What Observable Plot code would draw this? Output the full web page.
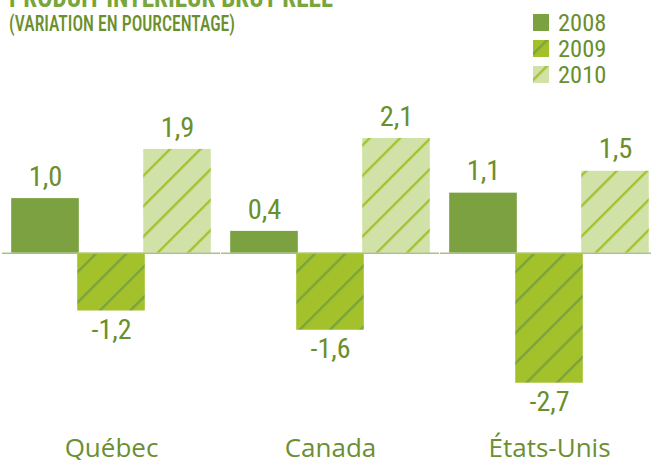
<!DOCTYPE html>
<html>
<head>
<meta charset="utf-8">
<script src="https://cdn.jsdelivr.net/npm/d3@7"></script>
<script src="https://cdn.jsdelivr.net/npm/@observablehq/plot@0.6"></script>
<style>
  html, body { margin: 0; padding: 0; background: #fff; }
  #wrap { position: relative; width: 651px; height: 460px; overflow: hidden; }
  .narrow { font-family: Roboto, sans-serif; font-stretch: 75%; }
  [font-family*="Roboto"] { font-stretch: 75%; }
  #title { position: absolute; left: 9px; top: -16px; font-size: 28px; line-height: 1; font-weight: bold; color: #78a63a; white-space: nowrap; transform-origin: 0 0; }
  #subtitle { position: absolute; left: 9px; top: 12.5px; font-size: 22px; line-height: 1; font-weight: 500; color: #6a8f2c; white-space: nowrap; transform-origin: 0 0; }
  .leg { position: absolute; left: 533px; display: flex; align-items: center; height: 17px; }
  .leg span { font-size: 24.5px; line-height: 17px; color: #6a8f2c; margin-left: 9px; }
  #chart { position: absolute; left: 0; top: 0; }
</style>
</head>
<body>
<div id="wrap">
  <div id="chart"></div>
  <div id="title" class="narrow">PRODUIT INTÉRIEUR BRUT RÉEL</div>
  <div id="subtitle" class="narrow">(VARIATION EN POURCENTAGE)</div>
  <div id="legend"></div>
</div>
<script>
// ---- data ----
const countries = ["Québec", "Canada", "États-Unis"];
const years = ["2008", "2009", "2010"];
const values2008 = [1.0, 0.4, 1.1];
const values2009 = [-1.2, -1.6, -2.7];
const values2010 = [1.9, 2.1, 1.5];

const seriesValues = [values2008, values2009, values2010];
const fills = ["#7ba140", "url(#h2009)", "url(#h2010)"];

const rows = [];
countries.forEach((c, i) => {
  years.forEach((y, j) => {
    rows.push({country: c, year: y, value: seriesValues[j][i]});
  });
});
const fmt = v => v.toFixed(1).replace(".", ",");
const labelColor = "#6a8f2c";
const narrow = "Roboto, sans-serif";
// the original draws negative bars on a slightly compressed scale
const negFactor = 0.881;

const chart = Plot.plot({
  width: 651,
  height: 460,
  marginLeft: 10,
  marginRight: 0,
  marginTop: 0,
  marginBottom: 0,
  fx: {domain: countries, paddingInner: 0.086, paddingOuter: 0, axis: null, label: null},
  x: {domain: years, padding: 0, axis: null, label: null},
  y: {transform: v => (v < 0 ? v * negFactor : v), domain: [-2.7 * negFactor, 2.1], range: [382.7, 138], axis: null, label: null},
  color: {domain: years, range: fills},
  marks: [
    Plot.barY(rows, {fx: "country", x: "year", y: "value", fill: "year", insetLeft: -0.8, insetRight: -0.8}),
    Plot.ruleY([0], {stroke: "#a9c283", strokeWidth: 1.5, insetLeft: -9, insetRight: -9}),
    Plot.text(rows.filter(d => d.value >= 0), {
      fx: "country", x: "year", y: "value", text: d => fmt(d.value),
      lineAnchor: "middle", dy: -22, fontSize: 28.5, fill: labelColor, fontFamily: narrow
    }),
    Plot.text(rows.filter(d => d.value < 0), {
      fx: "country", x: "year", y: "value", text: d => fmt(d.value),
      lineAnchor: "middle", dy: 19, fontSize: 28, fill: labelColor, fontFamily: narrow
    }),
    Plot.text(countries, {
      fx: d => d, text: d => d, frameAnchor: "bottom", lineAnchor: "bottom", dy: -4,
      fontSize: 26, fill: "#6a8f34", fontFamily: '"Open Sans", sans-serif'
    })
  ]
});

d3.select(chart).insert("defs", ":first-child").html(`
  <pattern id="h2009" patternUnits="userSpaceOnUse" width="21.5" height="21.5" patternTransform="rotate(45)">
    <rect width="21.5" height="21.5" fill="#a2c12a"></rect>
    <line x1="10" y1="0" x2="10" y2="21.5" stroke="#7ba140" stroke-width="2.3"></line>
  </pattern>
  <pattern id="h2010" patternUnits="userSpaceOnUse" width="21.5" height="21.5" patternTransform="rotate(45)">
    <rect width="21.5" height="21.5" fill="#d1e2a9"></rect>
    <line x1="10" y1="0" x2="10" y2="21.5" stroke="#a2c12a" stroke-width="2.3"></line>
  </pattern>`);
document.getElementById("chart").appendChild(chart);

// fit the headings to the widths of the original
function fitWidth(id, target) {
  const el = document.getElementById(id);
  const w = el.getBoundingClientRect().width;
  if (w > 0) el.style.transform = `scaleX(${target / w})`;
}
fitWidth("title", 324);
fitWidth("subtitle", 226);

// ---- legend ----
const legTops = [14, 40, 66];
const legend = document.getElementById("legend");
years.forEach((y, j) => {
  const row = document.createElement("div");
  row.className = "leg narrow";
  row.style.top = legTops[j] + "px";
  row.innerHTML = `<svg width="16" height="17"><rect width="16" height="17" fill="${fills[j]}"></rect></svg><span>${y}</span>`;
  legend.appendChild(row);
});
</script>
</body>
</html>
